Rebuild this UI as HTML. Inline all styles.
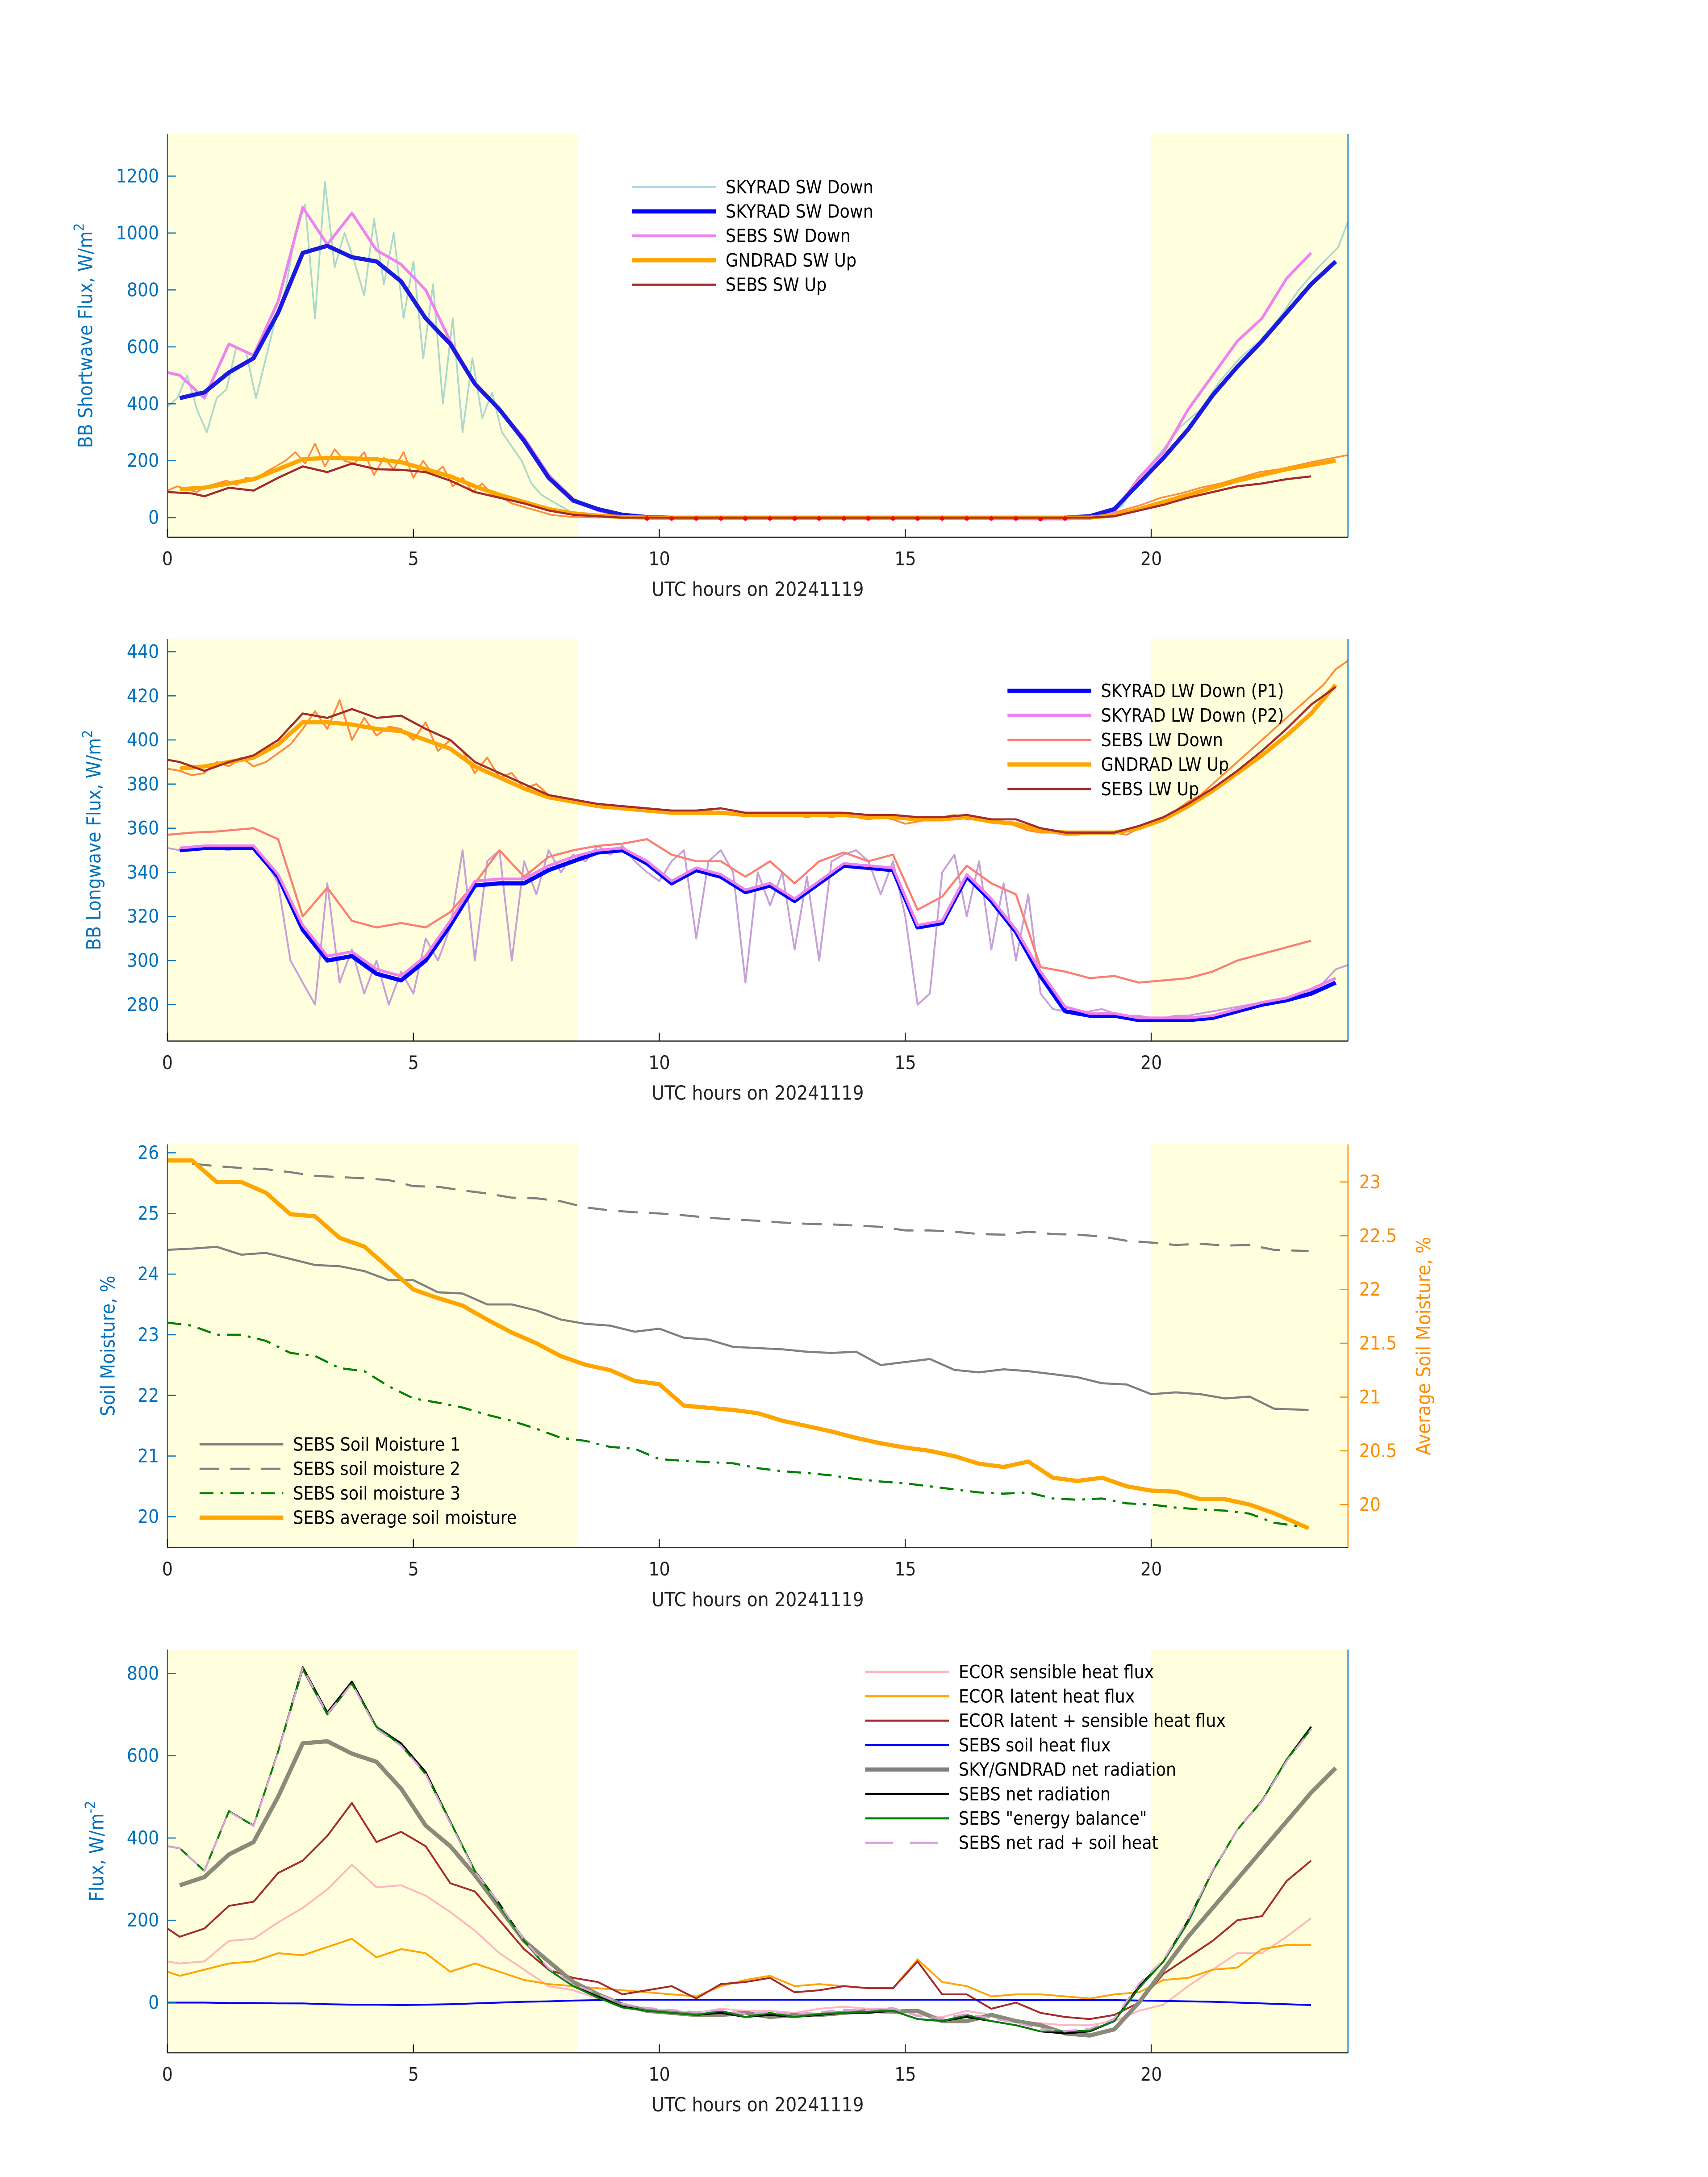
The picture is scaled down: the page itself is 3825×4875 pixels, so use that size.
<!DOCTYPE html>
<html><head><meta charset="utf-8">
<style>
html,body{margin:0;padding:0;background:#fff;}
svg{display:block;font-family:"DejaVu Sans Condensed","DejaVu Sans","Liberation Sans",sans-serif;}
</style></head>
<body>
<svg id="fig" xmlns="http://www.w3.org/2000/svg" width="3825" height="4875" viewBox="0 0 1224 1560"></svg>
<script>
// ---------- DATA ----------
const swSkyLightVals = [390,420,500,380,300,420,450,600,580,420,560,700,800,1000,1100,700,1180,880,1000,900,780,1050,820,1000,700,900,560,820,400,700,300,560,350,440,300,250,200,120,80,60,40,20,10,5,0];
const swSkyLightTail = [5,40,150,230,320,380,480,560,620,700,800,880,950,1040];
const swSkyLightTailT = [19.0,19.4,19.8,20.2,20.6,21.0,21.4,21.8,22.2,22.6,23.0,23.4,23.8,24.0];
const halfT = [0.25,0.75,1.25,1.75,2.25,2.75,3.25,3.75,4.25,4.75,5.25,5.75,6.25,6.75,7.25,7.75,8.25,8.75,9.25,9.75,10.25,10.75,11.25,11.75,12.25,12.75,13.25,13.75,14.25,14.75,15.25,15.75,16.25,16.75,17.25,17.75,18.25,18.75,19.25,19.75,20.25,20.75,21.25,21.75,22.25,22.75,23.25,23.75];
const swSkyVals = [420,440,510,560,720,930,955,915,900,830,700,610,470,380,270,140,60,30,10,2,0,0,0,0,0,0,0,0,0,0,0,0,0,0,0,0,0,5,30,120,210,310,430,530,620,720,820,900];
const swSebsDownT = [0,0.25,0.75,1.25,1.75,2.25,2.75,3.25,3.75,4.25,4.75,5.25,5.75,6.25,6.75,7.25,7.75,8.25,8.75,9.25,9.75,12,15,18.25,18.75,19.25,19.75,20.25,20.75,21.25,21.75,22.25,22.75,23.25];
const swSebsDownVals = [510,500,420,610,570,760,1090,960,1070,940,890,800,620,470,380,280,150,65,25,5,-3,-4,-4,-5,-3,20,140,230,380,500,620,700,840,930];
const swGndVals = [100,105,120,135,170,205,210,208,205,195,170,145,110,80,55,30,15,7,2,0,0,0,0,0,0,0,0,0,0,0,0,0,0,0,0,0,0,0,8,30,55,80,105,130,150,170,185,200];
const swGndNoisyVals = [95,110,100,90,110,120,130,115,140,135,160,180,200,230,190,260,180,240,200,190,230,150,210,170,230,140,200,150,180,110,140,90,120,80,70,50,40,30,20,10,6,3,2,1,0];
const swGndNoisyTail = [5,25,45,70,85,105,120,140,160,170,185,200,220];
const swGndNoisyTailT = [19.0,19.4,19.8,20.2,20.6,21.0,21.4,21.8,22.2,22.6,23.0,23.4,24.0];
const swSebsUpT = [0,0.5,0.75,1.25,1.75,2.25,2.75,3.25,3.75,4.25,4.75,5.25,5.75,6.25,6.75,7.25,7.75,8.25,8.75,9.25,12,15,18.75,19.25,19.75,20.25,20.75,21.25,21.75,22.25,22.75,23.25];
const swSebsUpVals = [90,85,75,105,95,140,180,160,190,170,168,160,130,90,70,50,25,10,5,0,0,0,0,5,25,45,70,90,110,120,135,145];
const swMarkT = [9.75,10.25,10.75,11.25,11.75,12.25,12.75,13.25,13.75,14.25,14.75,15.25,15.75,16.25,16.75,17.25,17.75,18.25];
const swMarkVals = [-3,-3,-3,-3,-3,-3,-3,-3,-3,-3,-3,-3,-3,-3,-3,-3,-5,-3];
const swTicks = [0,200,400,600,800,1000,1200];

const lwP1Vals = [350,351,351,351,338,314,300,302,294,291,300,316,334,335,335,341,345,349,350,344,335,341,338,331,334,327,335,343,342,341,315,317,338,327,313,293,277,275,275,273,273,273,274,277,280,282,285,290];
const lwP2Vals = [351,352,352,352,339,316,302,304,296,293,302,318,336,337,337,343,347,350,351,345,336,342,339,332,335,328,336,344,343,342,316,318,339,328,314,295,279,276,276,274,274,274,275,278,281,283,287,292];
const lwSkyNoisy = [351,350,350,351,351,350,352,351,345,335,300,290,280,335,290,305,285,300,280,295,285,310,300,315,350,300,345,350,300,345,330,350,340,348,345,352,348,352,345,340,336,345,350,310,345,350,340,290,340,325,340,305,338,300,345,348,350,345,330,345,320,280,285,340,348,320,345,305,335,300,330,285,278,277,276,277,278,276,275,275,274,274,275,275,276,277,278,279,280,281,282,283,284,286,290,296,298];
const lwSebsDownT = [0,0.5,1,1.75,2.25,2.75,3.25,3.75,4.25,4.75,5.25,5.75,6.25,6.75,7.25,7.75,8.25,8.75,9.25,9.75,10.25,10.75,11.25,11.75,12.25,12.75,13.25,13.75,14.25,14.75,15.25,15.75,16.25,16.75,17.25,17.75,18.25,18.75,19.25,19.75,20.25,20.75,21.25,21.75,22.25,22.75,23.25];
const lwSebsDownVals = [357,358,358.5,360,355,320,333,318,315,317,315,322,335,350,338,347,350,352,353,355,348,345,345,338,345,335,345,349,345,348,323,329,343,335,330,297,295,292,293,290,291,292,295,300,303,306,309];
const lwGndVals = [387,388,390,392,398,408,408,407,405,404,400,396,388,383,378,374,372,370,369,368,367,367,367,366,366,366,366,366,365,365,364,364,365,363,362,359,358,358,358,360,364,370,377,385,393,402,412,425];
const lwGndNoisy = [387,386,384,385,390,388,392,388,390,394,398,405,413,405,418,400,410,402,406,405,400,408,395,400,395,385,392,383,385,378,380,375,374,373,372,371,370,370,369,369,368,368,367,367,368,367,366,367,366,366,366,366,365,366,365,366,365,364,365,364,362,363,364,365,366,364,364,363,363,361,359,358,358,357,357,358,358,358,357,360,362,365,368,372,375,380,385,390,395,400,405,410,415,420,425,432,436];
const lwSebsUpT = [0,0.25,0.75,1.25,1.75,2.25,2.75,3.25,3.75,4.25,4.75,5.25,5.75,6.25,6.75,7.25,7.75,8.25,8.75,9.25,9.75,10.25,10.75,11.25,11.75,12.25,12.75,13.25,13.75,14.25,14.75,15.25,15.75,16.25,16.75,17.25,17.75,18.25,18.75,19.25,19.75,20.25,20.75,21.25,21.75,22.25,22.75,23.25,23.75];
const lwSebsUpVals = [391,390,386,390,393,400,412,410,414,410,411,405,400,390,385,380,375,373,371,370,369,368,368,369,367,367,367,367,367,366,366,365,365,366,364,364,360,358,358,358,361,365,371,378,386,395,405,416,424];
const lwTicks = [280,300,320,340,360,380,400,420,440];

const smT = [0,0.5,1,1.5,2,2.5,3,3.5,4,4.5,5,5.5,6,6.5,7,7.5,8,8.5,9,9.5,10,10.5,11,11.5,12,12.5,13,13.5,14,14.5,15,15.5,16,16.5,17,17.5,18,18.5,19,19.5,20,20.5,21,21.5,22,22.5,23.2];
const sm1 = [24.4,24.42,24.45,24.32,24.35,24.25,24.15,24.13,24.05,23.9,23.9,23.7,23.68,23.5,23.5,23.4,23.25,23.18,23.15,23.05,23.1,22.95,22.92,22.8,22.78,22.76,22.72,22.7,22.72,22.5,22.55,22.6,22.42,22.38,22.43,22.4,22.35,22.3,22.2,22.18,22.02,22.05,22.02,21.95,21.98,21.78,21.76];
const sm2 = [25.85,25.82,25.78,25.75,25.73,25.68,25.62,25.6,25.58,25.55,25.45,25.44,25.38,25.33,25.26,25.25,25.2,25.1,25.05,25.02,25,24.97,24.93,24.9,24.88,24.85,24.83,24.82,24.8,24.78,24.72,24.72,24.7,24.66,24.65,24.7,24.66,24.65,24.62,24.55,24.52,24.48,24.5,24.47,24.48,24.4,24.38];
const sm3 = [23.2,23.15,23.0,23.0,22.9,22.7,22.65,22.45,22.4,22.15,21.95,21.88,21.8,21.68,21.58,21.45,21.3,21.25,21.15,21.12,20.95,20.92,20.9,20.88,20.8,20.75,20.72,20.68,20.62,20.58,20.55,20.5,20.45,20.4,20.38,20.4,20.3,20.28,20.3,20.22,20.2,20.15,20.12,20.1,20.05,19.9,19.82];
const smAvg = [23.2,23.2,23.0,23.0,22.9,22.7,22.68,22.48,22.4,22.2,22.0,21.92,21.85,21.72,21.6,21.5,21.38,21.3,21.25,21.15,21.12,20.92,20.9,20.88,20.85,20.78,20.73,20.68,20.62,20.57,20.53,20.5,20.45,20.38,20.35,20.4,20.25,20.22,20.25,20.17,20.13,20.12,20.05,20.05,20.0,19.92,19.78];
const smTicksL = [20,21,22,23,24,25,26];
const smTicksR = [20,20.5,21,21.5,22,22.5,23];

const fxT = [0,0.25,0.75,1.25,1.75,2.25,2.75,3.25,3.75,4.25,4.75,5.25,5.75,6.25,6.75,7.25,7.75,8.25,8.75,9.25,9.75,10.25,10.75,11.25,11.75,12.25,12.75,13.25,13.75,14.25,14.75,15.25,15.75,16.25,16.75,17.25,17.75,18.25,18.75,19.25,19.75,20.25,20.75,21.25,21.75,22.25,22.75,23.25];
const fxSens = [100,95,100,150,155,195,230,275,335,280,285,260,220,175,120,80,40,30,10,-5,-15,-20,-25,-15,-20,-20,-25,-15,-10,-15,-15,-30,-35,-20,-30,-45,-50,-55,-55,-45,-20,-5,40,80,120,120,160,205];
const fxLat = [75,65,80,95,100,120,115,135,155,110,130,120,75,95,75,55,45,40,35,30,25,20,15,40,55,65,40,45,40,35,35,105,50,40,15,20,20,15,10,20,25,55,60,80,85,130,140,140];
const fxSum = [180,160,180,235,245,315,345,405,485,390,415,380,290,270,200,130,80,60,50,20,30,40,10,45,50,60,25,30,40,35,35,100,20,20,-15,0,-25,-35,-40,-30,0,70,110,150,200,210,295,345];
const fxSoil = [0,0,0,-1,-1,-2,-2,-4,-5,-5,-6,-5,-4,-2,0,2,3,5,6,7,7,7,7,7,7,7,7,7,7,7,7,7,7,7,7,6,6,6,6,6,5,4,3,2,0,-2,-4,-6];
const fxNetRad = [380,375,320,465,430,610,815,705,780,670,630,560,440,320,240,150,80,40,15,-10,-20,-25,-30,-25,-35,-30,-35,-30,-25,-25,-20,-40,-45,-35,-45,-55,-70,-75,-70,-45,40,100,200,320,420,490,590,670];
const fxEnergy = [380,375,320,465,430,610,810,700,775,670,625,555,440,320,235,150,80,40,12,-12,-20,-25,-30,-20,-35,-25,-35,-28,-25,-22,-20,-40,-45,-30,-45,-55,-70,-70,-68,-45,35,100,195,320,420,490,590,665];
const fxNetSoil = [380,375,320,464,429,608,813,701,775,665,624,555,436,318,240,152,83,45,21,-3,-13,-18,-23,-18,-28,-23,-28,-23,-18,-18,-13,-33,-38,-28,-38,-49,-64,-69,-64,-39,45,104,203,322,420,488,586,664];
const fxSkyT = halfT;
const fxSky = [285,305,360,390,500,630,635,605,585,520,430,380,310,230,150,100,50,20,-5,-20,-25,-30,-30,-25,-35,-30,-30,-25,-20,-22,-20,-45,-45,-30,-45,-55,-75,-80,-65,0,80,160,230,300,370,440,510,570];
const fxTicks = [0,200,400,600,800];
const xTicks = [0,5,10,15,20];

// ---------- DRAW ----------
const NS = "http://www.w3.org/2000/svg";
const svg = document.getElementById('fig');
function el(tag, attrs, parent){ const e=document.createElementNS(NS,tag); for(const k in attrs) e.setAttribute(k,attrs[k]); (parent||svg).appendChild(e); return e; }
const XL=120, XR=966;
function xS(t){ return XL + (t/24)*(XR-XL); }
function mkY(vmin,vmax,top,bot){ return v => bot - (v-vmin)/(vmax-vmin)*(bot-top); }
const AX='#0072BD';

function panel(name, top, bot){
  const g = el('g',{});
  
  
  const s1=el('rect',{x:XL,y:top,width:xS(8.33)-XL,height:bot-top,fill:'#FFFFDD'},g);
  
  
  const s2=el('rect',{x:xS(20),y:top,width:XR-xS(20),height:bot-top,fill:'#FFFFDD'},g);
  
  
  return g;
}
function axes(g, top, bot, yS, ticks, fmt, color, side, label, labelX){
  const x = side==='L'?XL:XR;
  const a=el('line',{x1:x,y1:top,x2:x,y2:bot,stroke:color,'stroke-width':0.8},g);
  
  
  ticks.forEach(v=>{
    const y=yS(v);
    el('line',{x1:x,y1:y,x2:side==='L'?x+6:x-6,y2:y,stroke:color,'stroke-width':0.8},g);
    const t=el('text',{x:side==='L'?x-6:x+8,y:y+4.5,'font-size':13.5,fill:color,'text-anchor':side==='L'?'end':'start'},g);
    t.textContent=fmt(v);
    
    
  });
  if(label){
    const cy=(top+bot)/2;
    const t=el('text',{x:labelX,y:cy,'font-size':14,fill:color,'text-anchor':'middle',transform:`rotate(-90 ${labelX} ${cy})`},g);
    t.innerHTML=label;
    
    
  }
}
function xaxis(g, bot){
  const a=el('line',{x1:XL,y1:bot,x2:XR,y2:bot,stroke:'#222','stroke-width':0.9},g);
  
  
  xTicks.forEach(v=>{
    el('line',{x1:xS(v),y1:bot,x2:xS(v),y2:bot-6,stroke:'#222','stroke-width':0.8},g);
    const t=el('text',{x:xS(v),y:bot+20,'font-size':13.5,fill:'#222','text-anchor':'middle'},g);
    t.textContent=v;
    
    
  });
  const t=el('text',{x:543,y:bot+42,'font-size':14,fill:'#222','text-anchor':'middle'},g);
  t.textContent='UTC hours on 20241119';
  
  
}
function line(g, ts, vs, yS, style, name){
  const d = vs.map((v,i)=>(i?'L':'M')+xS(ts[i]).toFixed(2)+','+yS(v).toFixed(2)).join(' ');
  const p=el('path',Object.assign({d:d,fill:'none','stroke-linejoin':'round'},style),g);
  
  
  return p;
}
function idxT(arr, step, t0){ return arr.map((_,i)=>t0+i*step); }
function legend(g, x, y0, dy, items){
  items.forEach((it,i)=>{
    const y=y0+i*dy;
    const l=el('line',Object.assign({x1:x,y1:y,x2:x+60,y2:y},it.style),g);
    
    
    const t=el('text',{x:x+67,y:y+4.5,'font-size':13,fill:'#000'},g);
    t.textContent=it.label;
    
    
  });
}
function clip(id, top, bot){
  const c=el('clipPath',{id:id}); el('rect',{x:XL,y:top,width:XR-XL,height:bot-top},c);
  return `url(#${id})`;
}

(function(){
  const top=96, bot=385, yS=mkY(-69,1348,top,bot);
  const g=panel('shortwave-panel',top,bot);
  const d=el('g',{'clip-path':clip('c1',top,bot)},g);
  line(d, idxT(swSkyLightVals,0.2,0), swSkyLightVals, yS, {stroke:'#aad8cc','stroke-width':1.2}, 'skyrad-sw-down-raw');
  line(d, swSkyLightTailT, swSkyLightTail, yS, {stroke:'#aad8cc','stroke-width':1.2}, 'skyrad-sw-down-raw-evening');
  line(d, idxT(swGndNoisyVals,0.2,0), swGndNoisyVals, yS, {stroke:'#ff8c3a','stroke-width':1.2}, 'gndrad-sw-up-raw');
  line(d, swGndNoisyTailT, swGndNoisyTail, yS, {stroke:'#ff8c3a','stroke-width':1.2}, 'gndrad-sw-up-raw-evening');
  line(d, swSebsDownT, swSebsDownVals, yS, {stroke:'#EE82EE','stroke-width':2}, 'sebs-sw-down');
  line(d, halfT, swSkyVals, yS, {stroke:'#1a1ae0','stroke-width':3}, 'skyrad-sw-down');
  line(d, halfT, swGndVals, yS, {stroke:'#FFA500','stroke-width':3}, 'gndrad-sw-up');
  line(d, swSebsUpT, swSebsUpVals, yS, {stroke:'#A52A2A','stroke-width':1.5}, 'sebs-sw-up');
  swMarkT.forEach((t,i)=>{ const c=el('circle',{cx:xS(t),cy:yS(swMarkVals[i]),r:1.6,fill:'#ff0000'},d);
    
     });
  axes(g,top,bot,yS,swTicks,v=>v,AX,'L','BB Shortwave Flux, W/m<tspan dy="-6" font-size="10">2</tspan>',66);
  const r=el('line',{x1:XR,y1:top,x2:XR,y2:bot,stroke:AX,'stroke-width':0.8},g);
  
  
  xaxis(g,bot);
  legend(g,453,134,17.5,[
    {label:'SKYRAD SW Down',style:{stroke:'#ADD8E6','stroke-width':1.5}},
    {label:'SKYRAD SW Down',style:{stroke:'#0000FF','stroke-width':3}},
    {label:'SEBS SW Down',style:{stroke:'#EE82EE','stroke-width':2}},
    {label:'GNDRAD SW Up',style:{stroke:'#FFA500','stroke-width':3}},
    {label:'SEBS SW Up',style:{stroke:'#A52A2A','stroke-width':1.5}}]);
})();

(function(){
  const top=458, bot=746, yS=mkY(263.5,445.7,top,bot);
  const g=panel('longwave-panel',top,bot);
  const d=el('g',{'clip-path':clip('c2',top,bot)},g);
  line(d, idxT(lwSkyNoisy,0.25,0), lwSkyNoisy, yS, {stroke:'#c8a0d8','stroke-width':1.3}, 'skyrad-lw-down-raw');
  line(d, idxT(lwGndNoisy,0.25,0), lwGndNoisy, yS, {stroke:'#ff8c3a','stroke-width':1.3}, 'gndrad-lw-up-raw');
  line(d, lwSebsDownT, lwSebsDownVals, yS, {stroke:'#FA8072','stroke-width':1.5}, 'sebs-lw-down');
  line(d, halfT, lwP1Vals, yS, {stroke:'#0000FF','stroke-width':3}, 'skyrad-lw-down-p1');
  line(d, halfT, lwP2Vals, yS, {stroke:'#EE82EE','stroke-width':2}, 'skyrad-lw-down-p2');
  line(d, halfT, lwGndVals, yS, {stroke:'#FFA500','stroke-width':3}, 'gndrad-lw-up');
  line(d, lwSebsUpT, lwSebsUpVals, yS, {stroke:'#A52A2A','stroke-width':1.5}, 'sebs-lw-up');
  axes(g,top,bot,yS,lwTicks,v=>v,AX,'L','BB Longwave Flux, W/m<tspan dy="-6" font-size="10">2</tspan>',72);
  const r=el('line',{x1:XR,y1:top,x2:XR,y2:bot,stroke:AX,'stroke-width':0.8},g);
  
  
  xaxis(g,bot);
  legend(g,722,495,17.6,[
    {label:'SKYRAD LW Down (P1)',style:{stroke:'#0000FF','stroke-width':3}},
    {label:'SKYRAD LW Down (P2)',style:{stroke:'#EE82EE','stroke-width':2.5}},
    {label:'SEBS LW Down',style:{stroke:'#FA8072','stroke-width':1.5}},
    {label:'GNDRAD LW Up',style:{stroke:'#FFA500','stroke-width':3}},
    {label:'SEBS LW Up',style:{stroke:'#A52A2A','stroke-width':1.5}}]);
})();

(function(){
  const top=820, bot=1109, yL=mkY(19.49,26.14,top,bot), yR=mkY(19.6,23.35,top,bot);
  const g=panel('soil-moisture-panel',top,bot);
  const d=el('g',{'clip-path':clip('c3',top,bot)},g);
  line(d, smT, sm1, yL, {stroke:'#808080','stroke-width':1.5}, 'sebs-soil-moisture-1');
  line(d, smT.slice(1), sm2.slice(1), yL, {stroke:'#808080','stroke-width':1.5,'stroke-dasharray':'14 8'}, 'sebs-soil-moisture-2');
  line(d, smT, sm3, yL, {stroke:'#008000','stroke-width':1.5,'stroke-dasharray':'10 5 2 5'}, 'sebs-soil-moisture-3');
  line(d, smT, smAvg, yR, {stroke:'#FFA500','stroke-width':3}, 'sebs-average-soil-moisture');
  axes(g,top,bot,yL,smTicksL,v=>v,AX,'L','Soil Moisture, %',82);
  axes(g,top,bot,yR,smTicksR,v=>v,'#FF8C00','R','Average Soil Moisture, %',1025);
  xaxis(g,bot);
  legend(g,143,1035,17.5,[
    {label:'SEBS Soil Moisture 1',style:{stroke:'#808080','stroke-width':1.5}},
    {label:'SEBS soil moisture 2',style:{stroke:'#808080','stroke-width':1.5,'stroke-dasharray':'14 8'}},
    {label:'SEBS soil moisture 3',style:{stroke:'#008000','stroke-width':1.5,'stroke-dasharray':'10 5 2 5'}},
    {label:'SEBS average soil moisture',style:{stroke:'#FFA500','stroke-width':3}}]);
})();

(function(){
  const top=1182, bot=1471, yS=mkY(-122,858,top,bot);
  const g=panel('energy-flux-panel',top,bot);
  const d=el('g',{'clip-path':clip('c4',top,bot)},g);
  line(d, fxT, fxSens, yS, {stroke:'#FFB6C1','stroke-width':1.3}, 'ecor-sensible-heat-flux');
  line(d, fxT, fxLat, yS, {stroke:'#FFA500','stroke-width':1.3}, 'ecor-latent-heat-flux');
  line(d, fxT, fxSum, yS, {stroke:'#A52A2A','stroke-width':1.3}, 'ecor-latent-plus-sensible');
  line(d, fxT, fxSoil, yS, {stroke:'#0000FF','stroke-width':1.3}, 'sebs-soil-heat-flux');
  line(d, fxSkyT, fxSky, yS, {stroke:'#8a8a78','stroke-width':3}, 'sky-gndrad-net-radiation');
  line(d, fxT, fxNetRad, yS, {stroke:'#000','stroke-width':1.3}, 'sebs-net-radiation');
  line(d, fxT, fxEnergy, yS, {stroke:'#008000','stroke-width':1.3}, 'sebs-energy-balance');
  line(d, fxT, fxNetSoil, yS, {stroke:'#DDA0DD','stroke-width':1.3,'stroke-dasharray':'10 6'}, 'sebs-net-rad-plus-soil-heat');
  axes(g,top,bot,yS,fxTicks,v=>v,AX,'L','Flux, W/m<tspan dy="-6" font-size="10">-2</tspan>',74);
  const r=el('line',{x1:XR,y1:top,x2:XR,y2:bot,stroke:AX,'stroke-width':0.8},g);
  
  
  xaxis(g,bot);
  legend(g,620,1198,17.5,[
    {label:'ECOR sensible heat flux',style:{stroke:'#FFB6C1','stroke-width':1.5}},
    {label:'ECOR latent heat flux',style:{stroke:'#FFA500','stroke-width':1.5}},
    {label:'ECOR latent + sensible heat flux',style:{stroke:'#A52A2A','stroke-width':1.5}},
    {label:'SEBS soil heat flux',style:{stroke:'#0000FF','stroke-width':1.5}},
    {label:'SKY/GNDRAD net radiation',style:{stroke:'#808080','stroke-width':3}},
    {label:'SEBS net radiation',style:{stroke:'#000','stroke-width':1.5}},
    {label:'SEBS "energy balance"',style:{stroke:'#008000','stroke-width':1.5}},
    {label:'SEBS net rad + soil heat',style:{stroke:'#DDA0DD','stroke-width':1.5,'stroke-dasharray':'20 12'}}]);
})();
</script>
</body></html>
